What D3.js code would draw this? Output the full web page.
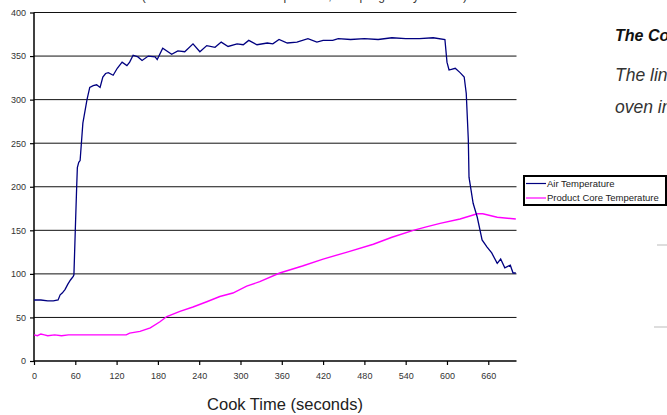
<!DOCTYPE html>
<html>
<head>
<meta charset="utf-8">
<script src="https://d3js.org/d3.v7.min.js"></script>
<style>
  body { margin: 0; padding: 0; background: #fff; overflow: hidden; }
  svg { display: block; }
</style>
</head>
<body>
<script>
// air temperature trace (seconds, degrees)
var airTime = [0,10,20,28,35,38,41,45,49,53,57,58,60,62,63,65,67,71,77,81,86,91,96,100,104,108,115,121,128,135,139,144,151,157,166,176,179,187,200,209,219,231,241,251,263,272,282,295,304,312,324,339,347,356,368,382,398,411,420,434,442,460,480,500,520,540,560,580,597,600,603,612,619,625,628,631,632,638,644,651,658,665,673,678,684,692,696,700];
var airTemp = [70,70,69,69,70,76,78,82,88,93,97,99,150,200,222,228,230,273,300,314,316,317,314,326,330,331,328,336,343,339,343,351,349,345,350,349,346,359,352,356,355,364,355,362,360,366,361,364,363,368,363,365,364,369,365,366,370,366,368,368,370,369,370,369,371,370,370,371,369,343,334,336,331,326,307,254,211,181,165,139,131,124,112,117,107,110,101,101];

// product core temperature trace
var coreTime = [0,5,10,15,20,30,40,50,70,90,110,134,139,154,169,183,193,212,231,251,270,289,309,328,357,390,420,455,493,520,551,570,590,619,644,652,673,700];
var coreTemp = [30,29,31,30,29,30,29,30,30,30,30,30,32,34,38,45,51,57,62,68,74,78,86,91,101,109,117,125,134,142,150,154,158,163,169,169,165,163];

var xTicks = [0,60,120,180,240,300,360,420,480,540,600,660];
var yTicks = [0,50,100,150,200,250,300,350,400];
var seriesNames = ["Air Temperature", "Product Core Temperature"];
var seriesColors = ["#000080", "#ff00ff"];

var W = 667, H = 415;
var pL = 34, pR = 516.5, pT = 12.5, pB = 361;
var font = "Liberation Sans, Arial, sans-serif";

var svg = d3.select("body").append("svg")
  .attr("width", W).attr("height", H);

var x = d3.scaleLinear().domain([0, 701]).range([pL, pR]);
var y = d3.scaleLinear().domain([0, 400]).range([pB, pT]);

// partial title (cut off at top edge)
svg.append("text")
  .attr("x", 270).attr("y", 0)
  .attr("text-anchor", "middle")
  .style("font-family", font)
  .style("font-size", "12px").style("fill", "#333")
  .text("Cook Profile (Air and Product Core Temperature, Sampling Every Second)");

// gridlines
svg.append("g").selectAll("line").data(yTicks.slice(1)).enter().append("line")
  .attr("x1", pL).attr("x2", pR)
  .attr("y1", function (d) { return y(d); })
  .attr("y2", function (d) { return y(d); })
  .attr("stroke", "#111").attr("stroke-width", 1);

// axes
var yAxis = d3.axisLeft(y).tickValues(yTicks).tickSize(4).tickPadding(4);
var gy = svg.append("g").attr("transform", "translate(" + pL + ",0)").call(yAxis);
var xAxis = d3.axisBottom(x).tickValues(xTicks).tickSize(4).tickPadding(8);
var gx = svg.append("g").attr("transform", "translate(0," + pB + ")").call(xAxis);

[gx, gy].forEach(function (g) {
  g.select(".domain").attr("stroke", "#000").attr("stroke-width", 1.5);
  g.selectAll(".tick line").attr("stroke", "#000").attr("stroke-width", 1.2);
  g.selectAll(".tick text")
    .style("font-family", font)
    .style("font-size", "9px").style("fill", "#333");
});
gx.select(".domain").attr("d", "M" + pL + ",0H" + pR);
gy.select(".domain").attr("d", "M0," + pB + "V" + pT);

// series lines
svg.append("clipPath").attr("id", "clip").append("rect")
  .attr("x", pL).attr("y", pT - 2).attr("width", pR - pL + 1).attr("height", pB - pT + 2);

var line = d3.line()
  .x(function (d) { return x(d[0]); })
  .y(function (d) { return y(d[1]); });

var airData = d3.zip(airTime, airTemp);
var coreData = d3.zip(coreTime, coreTemp);

svg.append("path").datum(coreData)
  .attr("clip-path", "url(#clip)")
  .attr("d", line).attr("fill", "none")
  .attr("stroke", seriesColors[1]).attr("stroke-width", 1.4);
svg.append("path").datum(airData)
  .attr("clip-path", "url(#clip)")
  .attr("d", line).attr("fill", "none")
  .attr("stroke", seriesColors[0]).attr("stroke-width", 1.3);

// x axis title
svg.append("text")
  .attr("x", 285).attr("y", 410)
  .attr("text-anchor", "middle")
  .style("font-family", font)
  .style("font-size", "16.5px").style("fill", "#222")
  .text("Cook Time (seconds)");

// legend
var lg = svg.append("g");
lg.append("rect")
  .attr("x", 524).attr("y", 176).attr("width", 142).attr("height", 29)
  .attr("fill", "#fff").attr("stroke", "#000").attr("stroke-width", 2);
seriesNames.forEach(function (name, i) {
  var ly = 183.5 + i * 14.5;
  lg.append("line").attr("x1", 526).attr("x2", 546).attr("y1", ly).attr("y2", ly)
    .attr("stroke", seriesColors[i]).attr("stroke-width", 1.2);
  lg.append("text").attr("x", 547).attr("y", ly + 3.3)
    .style("font-family", font)
    .style("font-size", "9.5px").style("fill", "#222")
    .text(name);
});

// side text (runs off the right edge)
svg.append("text").attr("x", 615).attr("y", 41)
  .style("font-family", font)
  .style("font-size", "16px").style("font-weight", "bold").style("font-style", "italic")
  .style("fill", "#111")
  .text("The Cook Cycle");
svg.append("text").attr("x", 615).attr("y", 81)
  .style("font-family", font)
  .style("font-size", "17.5px").style("font-style", "italic").style("fill", "#333")
  .text("The line graph shows the");
svg.append("text").attr("x", 615).attr("y", 113)
  .style("font-family", font)
  .style("font-size", "17.5px").style("font-style", "italic").style("fill", "#333")
  .text("oven in operation");

svg.append("line").attr("x1", 657).attr("x2", 667).attr("y1", 245).attr("y2", 245)
  .attr("stroke", "#bbb").attr("stroke-width", 1);
svg.append("line").attr("x1", 654).attr("x2", 667).attr("y1", 327).attr("y2", 327)
  .attr("stroke", "#bbb").attr("stroke-width", 1);
</script>
</body>
</html>
